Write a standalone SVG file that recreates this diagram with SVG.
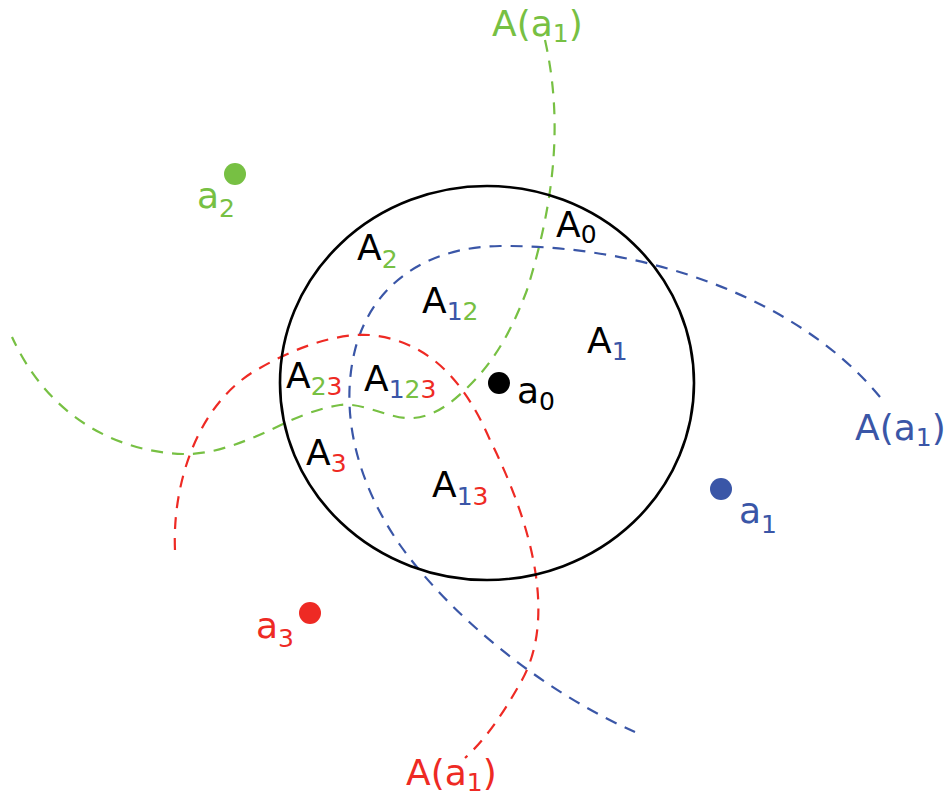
<svg xmlns="http://www.w3.org/2000/svg" width="948" height="797" viewBox="0 0 948 797">
<style>
text{font-family:"DejaVu Sans",sans-serif;font-size:36px;fill:#000}
.s{font-size:25px}
.g{fill:#77c043}.b{fill:#3a56a7}.r{fill:#ee2a24}.k{fill:#000}
.dash{fill:none;stroke-width:2.2;stroke-dasharray:12 9}
</style>
<rect width="948" height="797" fill="#fff"/>
<g id="connectors">
<path class="dash" stroke="#77c043" d="M545,40 C563,120 555,200 527,290 C512,330 495,360 470,385 C450,405 430,420 405,418 C385,416 360,402 340,405 C320,408 300,416 285,423 C250,440 215,455 183,454 C120,452 50,420 12,337"/>
<path class="dash" stroke="#3a56a7" d="M880,397 C800,300 650,245 500,246 C420,247 370,290 355,350 C340,410 355,480 400,545 C450,615 540,690 635,732"/>
<path class="dash" stroke="#ee2a24" d="M175,550 C172,480 200,400 260,368 C300,345 340,333 370,335 C420,340 460,370 490,440 C535,530 555,620 522,680 C508,705 490,735 465,758"/>
</g>
<g id="circle"><ellipse cx="487" cy="383" rx="207" ry="197" fill="none" stroke="#000" stroke-width="2.6"/></g>
<g id="a0"><circle cx="499" cy="383" r="11" fill="#000"/><text x="517" y="403">a<tspan class="s" dy="7">0</tspan></text></g>
<g id="a1"><circle cx="721" cy="489" r="11" fill="#3a56a7"/><text class="b" x="739" y="523">a<tspan class="s" dy="10">1</tspan></text></g>
<g id="a2"><circle cx="235" cy="174" r="11" fill="#77c043"/><text class="g" x="197" y="208">a<tspan class="s" dy="9">2</tspan></text></g>
<g id="a3"><circle cx="310" cy="613" r="11" fill="#ee2a24"/><text class="r" x="256" y="638">a<tspan class="s" dy="9">3</tspan></text></g>
<g id="label-green"><text class="g" x="492" y="36">A(a<tspan class="s" dy="6">1</tspan><tspan dy="-6">)</tspan></text></g>
<g id="label-blue"><text class="b" x="855" y="440">A(a<tspan class="s" dy="6">1</tspan><tspan dy="-6">)</tspan></text></g>
<g id="label-red"><text class="r" x="406" y="785">A(a<tspan class="s" dy="6">1</tspan><tspan dy="-6">)</tspan></text></g>
<g id="A0"><text x="556" y="237">A<tspan class="s k" dy="6">0</tspan></text></g>
<g id="A1"><text x="587" y="353">A<tspan class="s b" dy="7">1</tspan></text></g>
<g id="A2"><text x="357" y="260">A<tspan class="s g" dy="8">2</tspan></text></g>
<g id="A3"><text x="306" y="465">A<tspan class="s r" dy="7">3</tspan></text></g>
<g id="A12"><text x="422" y="313">A<tspan class="s b" dy="7">1</tspan><tspan class="s g">2</tspan></text></g>
<g id="A13"><text x="432" y="497">A<tspan class="s b" dy="8">1</tspan><tspan class="s r">3</tspan></text></g>
<g id="A23"><text x="286" y="388">A<tspan class="s g" dy="7">2</tspan><tspan class="s r">3</tspan></text></g>
<g id="A123"><text x="364" y="391">A<tspan class="s b" dy="7">1</tspan><tspan class="s g">2</tspan><tspan class="s r">3</tspan></text></g>
</svg>
